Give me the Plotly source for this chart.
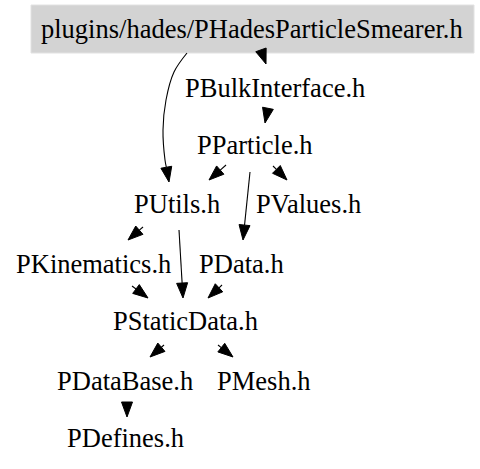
import numpy as np
import plotly.graph_objects as go

# include graph for plugins/hades/PHadesParticleSmearer.h
node_names = ["plugins/hades/PHadesParticleSmearer.h", "PBulkInterface.h", "PParticle.h",
              "PUtils.h", "PValues.h", "PKinematics.h", "PData.h", "PStaticData.h",
              "PDataBase.h", "PMesh.h", "PDefines.h"]
node_x = [252, 275, 255, 177, 308, 93, 241, 185, 125, 264, 125]
node_y = [29, 88, 145, 204, 204, 264, 264, 321, 381, 381, 438]

# edge routes (from, to, path points ending at arrow tip)
edge_from = [0, 1, 0, 2, 2, 2, 3, 3, 5, 6, 7, 7, 8]
edge_to = [1, 2, 3, 3, 4, 6, 5, 7, 7, 7, 8, 9, 10]
edge_px = [[261, 266], [268, 265], [187, 174, 166, 163, 165, 169], [226, 209], [273, 287],
           [250, 243], [143, 128], [179, 183], [132, 148], [222, 208], [164, 150], [218, 233],
           [127, 127]]
edge_py = [[50, 64], [108, 123], [53, 72, 100, 130, 160, 182], [165, 180], [166, 180],
           [172, 240], [227, 240], [230, 298], [286, 298], [285, 298], [345, 357], [345, 357],
           [402, 417]]

ARROW_LEN = 15
ARROW_HALF = 5.5
FONT = "Liberation Serif, Times New Roman, serif"

fig = go.Figure()

fig.add_shape(type="rect", x0=31, y0=5, x1=474, y1=53,
              fillcolor="#d3d3d3", line=dict(color="#e2e2e2", width=1), layer="below")

for xs, ys in zip(edge_px, edge_py):
    xs = np.array(xs, float)
    ys = np.array(ys, float)
    tip = np.array([xs[-1], ys[-1]])
    prev = np.array([xs[-2], ys[-2]])
    d = tip - prev
    d = d / np.hypot(*d)
    base = tip - d * ARROW_LEN
    n = np.array([-d[1], d[0]])
    lx = list(xs[:-1]) + [base[0]]
    ly = list(ys[:-1]) + [base[1]]
    if len(lx) > 2 or np.hypot(lx[-1] - lx[0], ly[-1] - ly[0]) > 1:
        fig.add_trace(go.Scatter(x=lx, y=ly, mode="lines",
                                 line=dict(color="black", width=1.1, shape="spline"),
                                 hoverinfo="skip", showlegend=False))
    p1 = base + n * ARROW_HALF
    p2 = base - n * ARROW_HALF
    fig.add_trace(go.Scatter(x=[tip[0], p1[0], p2[0], tip[0]], y=[tip[1], p1[1], p2[1], tip[1]],
                             mode="lines", fill="toself", fillcolor="black",
                             line=dict(color="black", width=1),
                             hoverinfo="skip", showlegend=False))

for name, x, y in zip(node_names, node_x, node_y):
    fig.add_annotation(x=x, y=y, text=name, showarrow=False,
                       font=dict(family=FONT, size=26.5, color="black"),
                       xanchor="center", yanchor="middle")

fig.update_xaxes(range=[0, 480], visible=False)
fig.update_yaxes(range=[469, 0], visible=False)
fig.update_layout(width=480, height=469, margin=dict(l=0, r=0, t=0, b=0),
                  plot_bgcolor="white", paper_bgcolor="white",
                  font=dict(family=FONT))

fig.write_html("out.html", config={"displayModeBar": False},
               post_script="document.body.style.margin='0';")
